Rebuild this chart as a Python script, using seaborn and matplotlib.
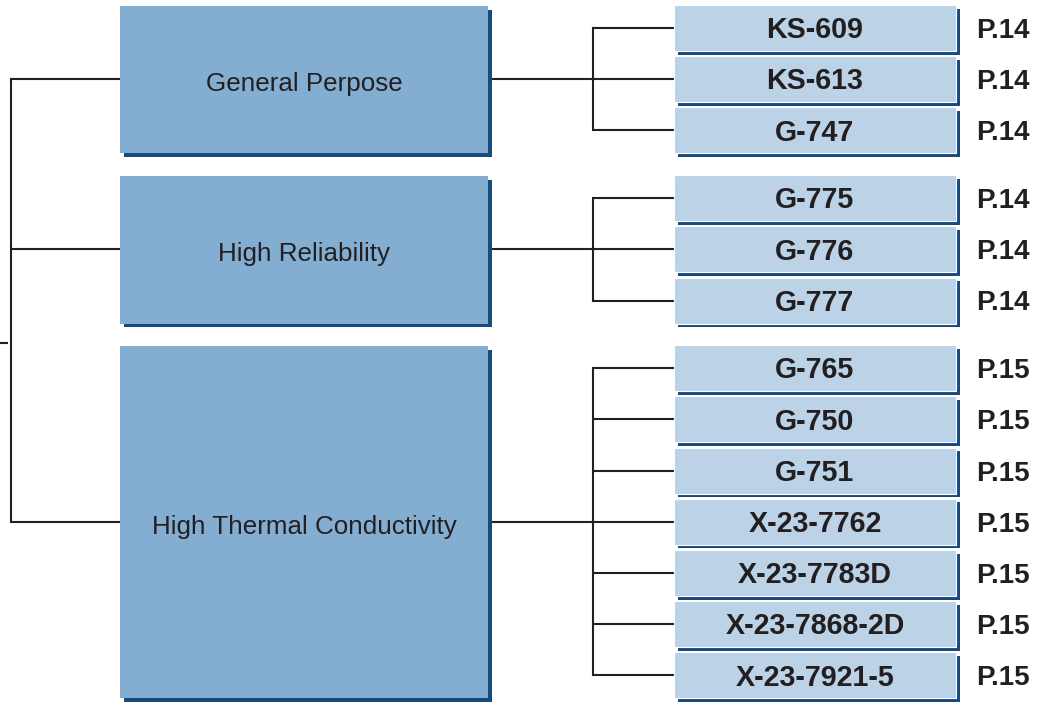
import matplotlib
matplotlib.use("Agg")
import matplotlib.pyplot as plt
from matplotlib.patches import Rectangle
import seaborn as sns

# ---- data ----
categories = ["General Perpose", "High Reliability", "High Thermal Conductivity"]
products_general = ["KS-609", "KS-613", "G-747"]
products_reliability = ["G-775", "G-776", "G-777"]
products_thermal = ["G-765", "G-750", "G-751", "X-23-7762", "X-23-7783D",
                    "X-23-7868-2D", "X-23-7921-5"]
pages_general = ["P.14", "P.14", "P.14"]
pages_reliability = ["P.14", "P.14", "P.14"]
pages_thermal = ["P.15", "P.15", "P.15", "P.15", "P.15", "P.15", "P.15"]

groups = [
    (categories[0], products_general, pages_general),
    (categories[1], products_reliability, pages_reliability),
    (categories[2], products_thermal, pages_thermal),
]

# ---- style ----
sns.set_theme(style="white")
plt.rcParams['font.family'] = ['Liberation Sans', 'DejaVu Sans']

CAT_FILL = "#84ADD2"
PROD_FILL = "#BBD2E7"
SHADOW = "#174B7D"
LINE = "#231F20"
TEXT = "#231F20"

W, H = 1050, 704
fig = plt.figure(figsize=(W / 100, H / 100), dpi=100)
ax = fig.add_axes([0, 0, 1, 1])
ax.set_xlim(0, W)
ax.set_ylim(H, 0)
ax.axis('off')

# layout (pixels)
ROW_TOP0, ROW_PITCH, GROUP_GAP, ROW_H = 5, 51.2, 16.5, 46
PX0, PX1 = 674, 956
CX0, CX1 = 120, 488
BUS_X, ROOT_X, ROOT_Y = 593, 11, 343
PAGE_X = 976
SDX, SDY = 4, 3.5
LW = 1.5

CAT_PX = 26.0
PROD_PX = 28.6
PAGE_PX = 27.7
CAP = 0.716


def pt(px):
    return px * 0.72


def box(x0, y0, x1, y1, fill, white_edge=False):
    ax.add_patch(Rectangle((x0 + SDX, y0 + SDY), x1 - x0, y1 - y0,
                           facecolor=SHADOW, edgecolor='none', zorder=2))
    ax.add_patch(Rectangle((x0, y0), x1 - x0, y1 - y0, facecolor=fill,
                           edgecolor='white' if white_edge else 'none',
                           linewidth=0.8 if white_edge else 0, zorder=3))


row = 0
cat_lines = []
for g, (cat, prods, pages) in enumerate(groups):
    tops = [ROW_TOP0 + ROW_PITCH * (row + i) + GROUP_GAP * g for i in range(len(prods))]
    centers = [t + ROW_H / 2 for t in tops]
    row += len(prods)

    # category box
    ctop, cbot = tops[0] + 1, tops[-1] + ROW_H
    box(CX0, ctop, CX1, cbot, CAT_FILL)
    cy = (ctop + cbot) / 2
    mid = centers[len(centers) // 2]
    cat_lines.append(mid)
    ax.text((CX0 + CX1) / 2, cy + 2 + CAP * CAT_PX / 2, cat, ha='center', va='baseline',
            fontsize=pt(CAT_PX), color=TEXT, zorder=4)

    # connectors
    ax.plot([0, 0], [0, 0], alpha=0)
    ax.plot([ROOT_X, CX0], [mid, mid], color=LINE, lw=LW, zorder=1, solid_capstyle='butt')
    ax.plot([CX1, BUS_X], [mid, mid], color=LINE, lw=LW, zorder=1, solid_capstyle='butt')
    ax.plot([BUS_X, BUS_X], [centers[0], centers[-1]], color=LINE, lw=LW, zorder=1,
            solid_capstyle='projecting')
    for c in centers:
        ax.plot([BUS_X, PX0], [c, c], color=LINE, lw=LW, zorder=1, solid_capstyle='butt')

    # product boxes + pages
    for t, c, p, pg in zip(tops, centers, prods, pages):
        box(PX0, t, PX1, t + ROW_H, PROD_FILL, white_edge=True)
        ax.text((PX0 + PX1) / 2, c + CAP * PROD_PX / 2, p, ha='center', va='baseline',
                fontsize=pt(PROD_PX), fontweight='bold', color=TEXT, zorder=4)
        ax.text(PAGE_X, c + CAP * PAGE_PX / 2, pg, ha='left', va='baseline',
                fontsize=pt(PAGE_PX), fontweight='bold', color=TEXT, zorder=4)

# root bracket
ax.plot([ROOT_X, ROOT_X], [cat_lines[0], cat_lines[-1]], color=LINE, lw=LW, zorder=1,
        solid_capstyle='projecting')
ax.plot([0, 8], [ROOT_Y, ROOT_Y], color=LINE, lw=LW, zorder=1, solid_capstyle='butt')

fig.savefig("out.png", dpi=100, facecolor='white')
